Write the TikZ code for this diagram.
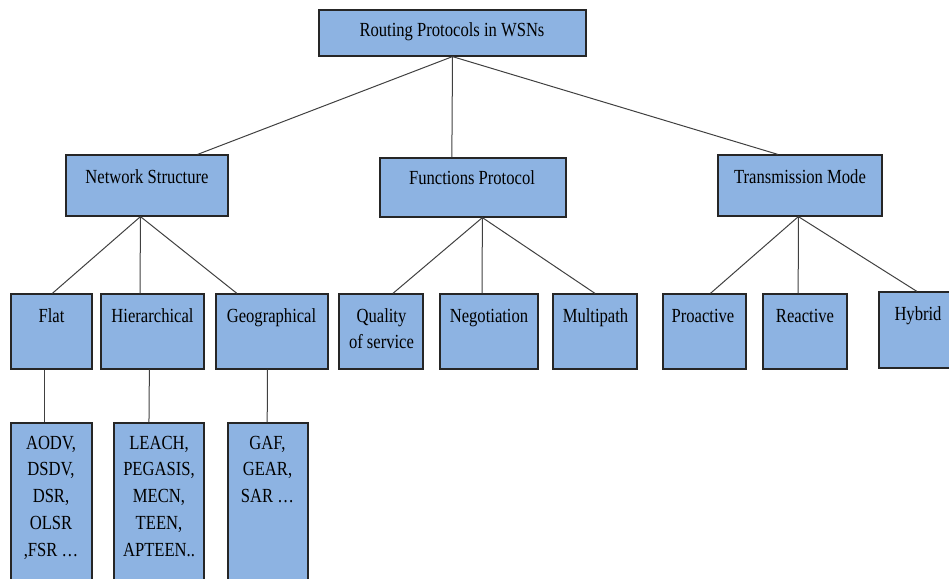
\documentclass[tikz,border=0pt]{standalone}
\usepackage{fontspec}
\setmainfont{Liberation Serif}[FakeStretch=0.83]
\usetikzlibrary{calc}
\definecolor{boxblue}{HTML}{8DB3E2}
\definecolor{edgegray}{HTML}{262626}
\definecolor{linegray}{HTML}{404040}
\newcommand{\mybox}[5]{\node[box,minimum width={#4pt-#2pt},minimum height={#5pt-#3pt}] (#1) at ({(#2+#4)/2},{(#3+#5)/2}) {};}
\begin{document}
\begin{tikzpicture}[x=1pt,y=-1pt,
  box/.style={draw=edgegray,fill=boxblue,line width=1.2pt,inner sep=0pt,rectangle},
  txt/.style={anchor=base,inner sep=0pt,font=\fontsize{20}{26}\selectfont},
  conn/.style={draw=linegray,line width=1pt}]
\useasboundingbox (0,0) rectangle (949,578);
% boxes
\mybox{top}{319}{10}{586}{56}
\mybox{ns}{66}{155}{228}{216}
\mybox{fp}{380}{158}{566}{217}
\mybox{tm}{718}{155}{882}{216}
\mybox{flat}{11}{294}{92}{369}
\mybox{hier}{101}{294}{204}{369}
\mybox{geo}{216}{294}{328}{369}
\mybox{qos}{339}{294}{423}{369}
\mybox{neg}{440}{294}{538}{369}
\mybox{mp}{553}{294}{637}{369}
\mybox{pro}{663}{294}{746}{369}
\mybox{rea}{763}{294}{847}{369}
\mybox{hyb}{879}{292}{958}{368}
\mybox{aodv}{11}{423}{92}{592}
\mybox{leach}{114}{423}{204}{592}
\mybox{gaf}{228}{423}{308}{592}
% texts
\node[txt] (t-top) at (452,36.7) {Routing Protocols in WSNs};
\node[txt] (t-ns) at (147,183) {Network Structure};
\node[txt] (t-fp) at (472,184) {Functions Protocol};
\node[txt] (t-tm) at (800,183) {Transmission Mode};
\node[txt] (t-flat) at (51.5,322.7) {Flat};
\node[txt] (t-hier) at (152.5,322.7) {Hierarchical};
\node[txt] (t-geo) at (271.5,322.7) {Geographical};
\node[txt] (t-qos) at (381.5,322.7) {\begin{tabular}[t]{@{}c@{}}Quality\\of service\end{tabular}};
\node[txt] (t-neg) at (489,322.7) {Negotiation};
\node[txt] (t-mp) at (595.5,322.7) {Multipath};
\node[txt] (t-pro) at (703,322.7) {Proactive};
\node[txt] (t-rea) at (805,322.7) {Reactive};
\node[txt] (t-hyb) at (918,320) {Hybrid};
\node[txt] (t-aodv) at (51,449) {\renewcommand{\arraystretch}{1.03}\begin{tabular}[t]{@{}c@{}}AODV,\\DSDV,\\DSR,\\OLSR\\,FSR …\end{tabular}};
\node[txt] (t-leach) at (159,449) {\renewcommand{\arraystretch}{1.03}\begin{tabular}[t]{@{}c@{}}LEACH,\\PEGASIS,\\MECN,\\TEEN,\\APTEEN..\end{tabular}};
\node[txt] (t-gaf) at (267.5,449) {\renewcommand{\arraystretch}{1.03}\begin{tabular}[t]{@{}c@{}}GAF,\\GEAR,\\SAR …\end{tabular}};
% connectors
\draw[conn] ($(top.south west)!0.5!(top.south east)$) -- ($(ns.north west)!0.81!(ns.north east)$);
\draw[conn] ($(top.south west)!0.5!(top.south east)$) -- ($(fp.north west)!0.387!(fp.north east)$);
\draw[conn] ($(top.south west)!0.5!(top.south east)$) -- ($(tm.north west)!0.366!(tm.north east)$);
\draw[conn] ($(ns.south west)!0.46!(ns.south east)$) -- ($(flat.north west)!0.51!(flat.north east)$);
\draw[conn] ($(ns.south west)!0.46!(ns.south east)$) -- ($(hier.north west)!0.38!(hier.north east)$);
\draw[conn] ($(ns.south west)!0.46!(ns.south east)$) -- ($(geo.north west)!0.19!(geo.north east)$);
\draw[conn] ($(fp.south west)!0.55!(fp.south east)$) -- ($(qos.north west)!0.64!(qos.north east)$);
\draw[conn] ($(fp.south west)!0.55!(fp.south east)$) -- ($(neg.north west)!0.43!(neg.north east)$);
\draw[conn] ($(fp.south west)!0.55!(fp.south east)$) -- ($(mp.north west)!0.5!(mp.north east)$);
\draw[conn] ($(tm.south west)!0.49!(tm.south east)$) -- ($(pro.north west)!0.57!(pro.north east)$);
\draw[conn] ($(tm.south west)!0.49!(tm.south east)$) -- ($(rea.north west)!0.42!(rea.north east)$);
\draw[conn] ($(tm.south west)!0.49!(tm.south east)$) -- ($(hyb.north west)!0.48!(hyb.north east)$);
\draw[conn] ($(flat.south west)!0.42!(flat.south east)$) -- ($(aodv.north west)!0.42!(aodv.north east)$);
\draw[conn] ($(hier.south west)!0.47!(hier.south east)$) -- ($(leach.north west)!0.39!(leach.north east)$);
\draw[conn] ($(geo.south west)!0.46!(geo.south east)$) -- ($(gaf.north west)!0.49!(gaf.north east)$);
\end{tikzpicture}
\end{document}
